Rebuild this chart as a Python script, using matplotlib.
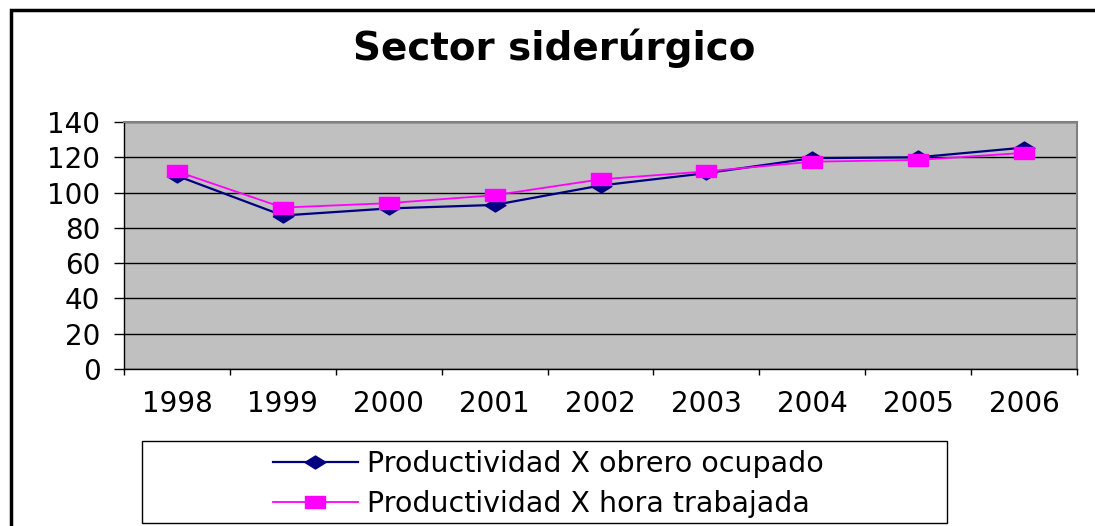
import numpy as np
import matplotlib.pyplot as plt
from matplotlib.patches import Rectangle

anios = ['1998', '1999', '2000', '2001', '2002', '2003', '2004', '2005', '2006']
obrero = [109.5, 87, 91, 93, 104, 111, 119.5, 120, 125.5]
hora = [112, 91.5, 94, 98.5, 107.5, 112, 117.5, 118.5, 122.5]

plt.rcParams['font.family'] = 'DejaVu Sans'

W, H = 1095, 526
fig = plt.figure(figsize=(W / 100, H / 100), dpi=100, facecolor='white')

# marcadores "estirados" como en el original de Excel
rombo = [(-1.6, 0), (0, 1), (1.6, 0), (0, -1), (-1.6, 0)]
cuadro = [(-1.6, -1), (1.6, -1), (1.6, 1), (-1.6, 1), (-1.6, -1)]

ax = fig.add_axes([124 / W, 1 - 369 / H, (1077 - 124) / W, (369 - 122) / H])
ax.set_facecolor('#C0C0C0')

x = np.arange(len(anios))
ax.plot(x, obrero, '-', color='#000080', lw=1.6, marker=rombo, ms=15,
        mfc='#000080', mec='#000080', label='Productividad X obrero ocupado', zorder=3)
ax.plot(x, hora, '-', color='#FF00FF', lw=1.3, marker=cuadro, ms=14,
        mfc='#FF00FF', mec='#FF00FF', label='Productividad X hora trabajada', zorder=4)

ax.set_xlim(-0.5, len(anios) - 0.5)
ax.set_ylim(0, 140)
ax.set_yticks(np.arange(0, 141, 20))
ax.set_xticks(x)
ax.set_xticklabels(anios)
ax.set_xticks(np.arange(-0.5, len(anios), 1), minor=True)

ax.grid(axis='y', color='black', lw=1)
ax.set_axisbelow(True)

ax.tick_params(axis='x', which='major', length=0, pad=15, labelsize=20)
ax.tick_params(axis='x', which='minor', length=4.5, width=1, color='black')
ax.tick_params(axis='y', length=7, width=1, pad=10, labelsize=20)

for s in ['top', 'right']:
    ax.spines[s].set_color('#808080')
    ax.spines[s].set_linewidth(1.5)
for s in ['left', 'bottom']:
    ax.spines[s].set_color('black')
    ax.spines[s].set_linewidth(1)

fig.text(554 / W, 1 - 48 / H, 'Sector siderúrgico', ha='center', va='center',
         fontsize=28, fontweight='bold')

# marco exterior del grafico
fig.patches.append(Rectangle((11 / W, -0.2), 1.2, 1.2 - 10 / H, transform=fig.transFigure,
                             fill=False, ec='black', lw=2.5))

# caja de la leyenda
fig.patches.append(Rectangle((142 / W, 1 - 523 / H), (947 - 142) / W, (523 - 441) / H,
                             transform=fig.transFigure, fill=False, ec='black', lw=1))

fig.legend(loc='center', bbox_to_anchor=(548 / W, 1 - 484 / H), frameon=False,
           fontsize=20.5, handlelength=3.0, handletextpad=0.3, labelspacing=0.42)

fig.savefig('out.png', dpi=100)
